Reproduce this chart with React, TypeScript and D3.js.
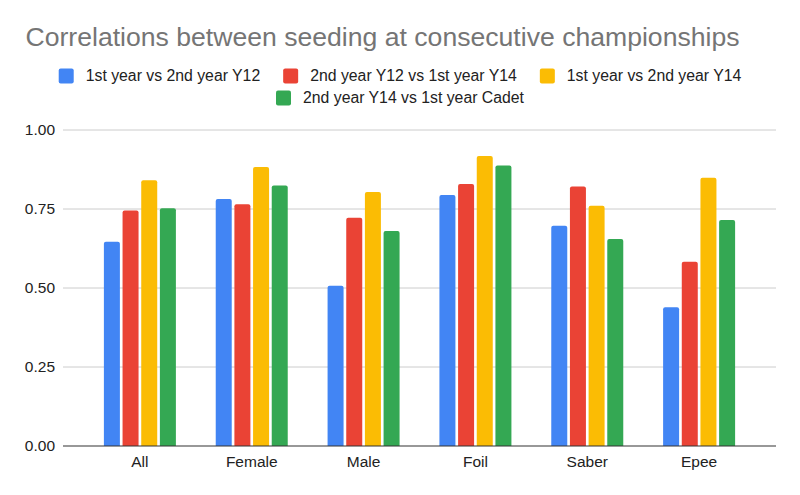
import React, { useEffect, useRef } from "react";
import * as d3 from "d3";

const title = "Correlations between seeding at consecutive championships";
const categories = ["All", "Female", "Male", "Foil", "Saber", "Epee"];
const seriesNames = [
  "1st year vs 2nd year Y12",
  "2nd year Y12 vs 1st year Y14",
  "1st year vs 2nd year Y14",
  "2nd year Y14 vs 1st year Cadet",
];
const seriesColors = ["#4285F4", "#EA4335", "#FBBC04", "#34A853"];
const s1 = [0.646, 0.782, 0.507, 0.794, 0.697, 0.439];
const s2 = [0.745, 0.765, 0.722, 0.829, 0.821, 0.583];
const s3 = [0.841, 0.883, 0.804, 0.918, 0.76, 0.849];
const s4 = [0.752, 0.824, 0.68, 0.888, 0.655, 0.715];
const yTicks = [0, 0.25, 0.5, 0.75, 1.0];

const W = 800;
const H = 495;
const FONT = "Arial, 'Liberation Sans', Helvetica, sans-serif";

function topRoundedRect(x: number, y: number, w: number, h: number, r: number) {
  const rr = Math.min(r, h, w / 2);
  return `M${x},${y + h}V${y + rr}Q${x},${y} ${x + rr},${y}H${x + w - rr}Q${x + w},${y} ${x + w},${y + rr}V${y + h}Z`;
}

export default function App() {
  const legendRef = useRef<SVGGElement>(null);
  const series = [s1, s2, s3, s4];

  const left = 63;
  const right = 776;
  const top = 130;
  const bottom = 446;

  const y = d3.scaleLinear().domain([0, 1]).range([bottom, top]);
  const x = d3.scalePoint<string>().domain(categories).range([left, right]).padding(0.6875);
  const xi = d3
    .scaleBand<number>()
    .domain(d3.range(seriesNames.length))
    .range([-36, 36])
    .paddingInner(0.143)
    .paddingOuter(0);

  useEffect(() => {
    const g = d3.select(legendRef.current);
    if (!g.node()) return;
    const items = g.selectAll<SVGGElement, unknown>("g.item").nodes();
    const widths = items.map((n) => {
      const t = n.querySelector("text") as SVGTextElement;
      return 27 + t.getComputedTextLength();
    });
    const rows = [[0, 1, 2], [3]];
    const rowY = [68.5, 90.5];
    const gap = 23;
    rows.forEach((row, ri) => {
      const total = d3.sum(row, (i) => widths[i]) + gap * (row.length - 1);
      let cx = 400 - total / 2;
      row.forEach((i) => {
        d3.select(items[i]).attr("transform", `translate(${cx},${rowY[ri]})`);
        cx += widths[i] + gap;
      });
    });
  }, []);

  return (
    <svg width={W} height={H} style={{ display: "block", position: "absolute", left: 0, top: 0 }} fontFamily={FONT}>
      <rect x={0} y={0} width={W} height={H} fill="#ffffff" />
      <text x={25.5} y={45.5} fontSize={26.6} fill="#757575">
        {title}
      </text>

      <g ref={legendRef}>
        {seriesNames.map((name, i) => (
          <g className="item" key={name}>
            <rect x={0} y={0} width={15} height={15} rx={2} fill={seriesColors[i]} />
            <text x={27} y={12} fontSize={15.8} fill="#222222">
              {name}
            </text>
          </g>
        ))}
      </g>

      {yTicks.map((t) => (
        <g key={t}>
          {t !== 0 && <line x1={left} x2={right} y1={y(t)} y2={y(t)} stroke="#cccccc" strokeWidth={1} />}
          <text x={55} y={y(t)} dy="0.35em" textAnchor="end" fontSize={15.5} fill="#222222">
            {t.toFixed(2)}
          </text>
        </g>
      ))}

      {categories.map((c, ci) => (
        <g key={c} transform={`translate(${x(c)},0)`}>
          {series.map((s, si) => (
            <path
              key={si}
              d={topRoundedRect(xi(si) as number, y(s[ci]), xi.bandwidth(), bottom - y(s[ci]), 2)}
              fill={seriesColors[si]}
            />
          ))}
          <text x={0} y={466.5} textAnchor="middle" fontSize={15.5} fill="#222222">
            {c}
          </text>
        </g>
      ))}

      <line x1={left} x2={right} y1={bottom} y2={bottom} stroke="#333333" strokeWidth={1.2} />
    </svg>
  );
}
